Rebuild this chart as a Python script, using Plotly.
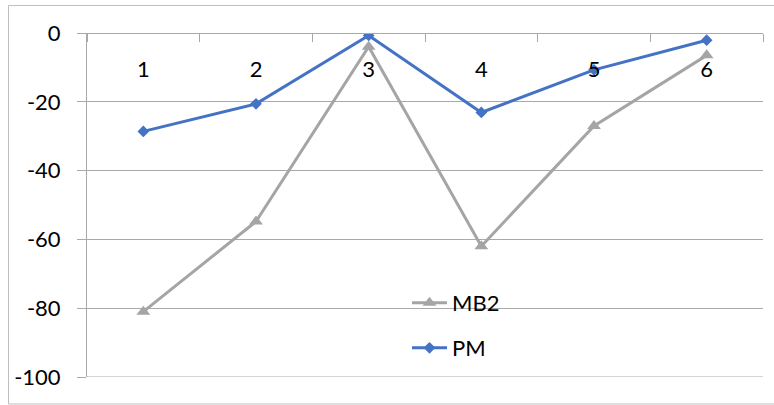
import plotly.graph_objects as go

categories = ["1", "2", "3", "4", "5", "6"]
mb2_values = [-81, -54.8, -4, -62, -27, -6.5]
pm_values = [-28.6, -20.6, -0.7, -23.1, -10.7, -2.1]
y_ticks = [0, -20, -40, -60, -80, -100]

GRID = "#A9A9A9"
FONT = "Lato"
FS = 22

W, H = 774, 405
L, R, T, B = 87, 11, 33, 28
pw, ph = W - L - R, H - T - B

def px_x(x):
    return (x - L) / pw

def px_y(y):
    return (H - B - y) / ph

fig = go.Figure()
fig.add_trace(go.Scatter(
    x=categories, y=mb2_values, name="MB2", mode="lines+markers",
    line=dict(color="#A5A5A5", width=3),
    marker=dict(symbol="triangle-up", size=12, color="#A5A5A5"),
    legend="legend",
))
fig.add_trace(go.Scatter(
    x=categories, y=pm_values, name="PM", mode="lines+markers",
    line=dict(color="#4472C4", width=3),
    marker=dict(symbol="diamond", size=9, color="#4472C4"),
    legend="legend2",
))

fig.update_layout(
    width=W, height=H,
    margin=dict(l=L, r=R, t=T, b=B),
    paper_bgcolor="white", plot_bgcolor="white",
    showlegend=True,
    font=dict(family=FONT, size=FS, color="#000000"),
    xaxis=dict(
        type="category", categoryorder="array", categoryarray=categories,
        range=[-0.5, 5.5], anchor="free", position=1, side="bottom",
        showline=True, linecolor=GRID, linewidth=1,
        ticks="outside", tickson="boundaries", ticklen=8, tickcolor=GRID,
        showgrid=False, zeroline=False, ticklabelstandoff=17,
        tickfont=dict(family=FONT, size=FS, color="#000000"),
    ),
    yaxis=dict(
        range=[-100, 0], tickvals=y_ticks, ticktext=[str(v) for v in y_ticks],
        showline=True, linecolor=GRID, linewidth=1,
        showgrid=True, gridcolor=GRID, gridwidth=1,
        ticks="outside", ticklen=9, tickcolor=GRID,
        zeroline=False, ticklabelstandoff=12,
        tickfont=dict(family=FONT, size=FS, color="#000000"),
    ),
    legend=dict(
        x=px_x(407), y=px_y(303), xanchor="left", yanchor="middle",
        bgcolor="rgba(0,0,0,0)", itemwidth=35,
        font=dict(family=FONT, size=FS, color="#000000"),
    ),
    legend2=dict(
        x=px_x(407), y=px_y(348), xanchor="left", yanchor="middle",
        bgcolor="rgba(0,0,0,0)", itemwidth=35,
        font=dict(family=FONT, size=FS, color="#000000"),
    ),
    shapes=[
        dict(
            type="rect", xref="paper", yref="paper",
            x0=px_x(8.5), x1=px_x(777), y0=px_y(404), y1=px_y(5.5),
            line=dict(color="#BFBFBF", width=1), fillcolor="rgba(0,0,0,0)",
            layer="below",
        ),
        dict(
            type="line", xref="paper", yref="y",
            x0=0, x1=1, y0=min(y_ticks), y1=min(y_ticks),
            line=dict(color=GRID, width=1), layer="below",
        ),
    ],
)

fig.write_html(
    "out.html",
    config={"displayModeBar": False},
    post_script="document.body.style.margin='0';document.body.style.padding='0';",
)
